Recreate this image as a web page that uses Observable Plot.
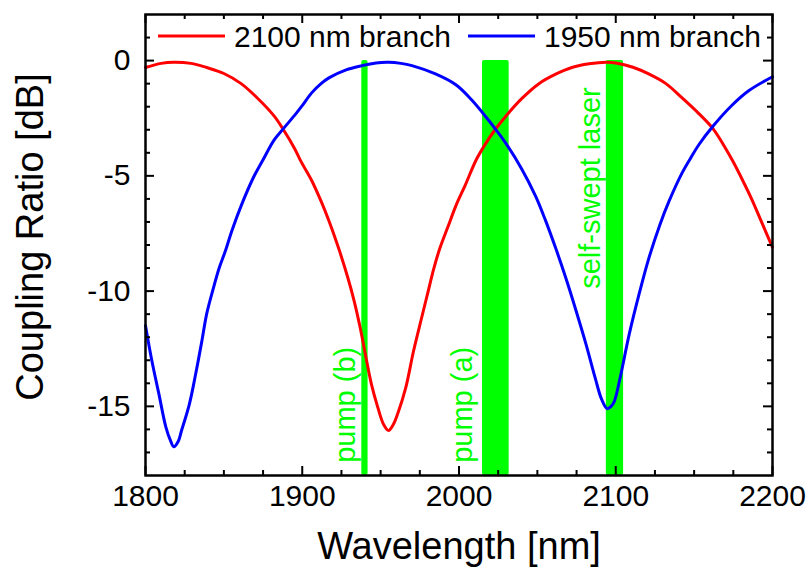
<!DOCTYPE html>
<html>
<head>
<meta charset="utf-8">
<script src="https://cdn.jsdelivr.net/npm/d3@7"></script>
<script src="https://cdn.jsdelivr.net/npm/@observablehq/plot@0.6"></script>
<style>
  html, body { margin: 0; padding: 0; background: #fff; }
  #chart { width: 809px; height: 579px; }
</style>
</head>
<body>
<div id="chart"></div>
<script>
// Coupling ratio of the 2100 nm branch (red) versus wavelength
const wavelength2100 = [1800, 1810, 1818, 1829, 1839, 1850, 1861, 1871, 1882, 1888, 1895, 1899,
  1906, 1912, 1917, 1923, 1929, 1933, 1937, 1941, 1944, 1948, 1952, 1955, 1958, 1961, 1966,
  1971, 1976, 1980, 1984, 1988, 1993, 1998, 2004, 2011, 2017, 2023, 2030, 2040, 2051, 2062,
  2072, 2083, 2094, 2100, 2111, 2121, 2132, 2142, 2153, 2162, 2170, 2175, 2181, 2187, 2193, 2200];
const ratio2100 = [-0.3, -0.12, -0.07, -0.12, -0.3, -0.56, -1.0, -1.6, -2.4, -3.0, -3.8, -4.35,
  -5.2, -6.1, -6.95, -8.1, -9.4, -10.4, -11.6, -13.0, -14.0, -15.0, -15.8, -16.05, -15.8, -15.3, -14.2,
  -12.6, -11.2, -10.1, -9.0, -8.1, -7.2, -6.3, -5.4, -4.3, -3.6, -3.0, -2.4, -1.65, -1.0, -0.58,
  -0.3, -0.14, -0.07, -0.1, -0.29, -0.58, -1.0, -1.6, -2.3, -2.95, -3.8, -4.4, -5.2, -6.05, -7.0, -8.1];

// Coupling ratio of the 1950 nm branch (blue) versus wavelength
const wavelength1950 = [1800, 1804, 1808.5, 1813, 1816, 1818, 1821, 1823, 1828, 1832, 1836, 1839,
  1843, 1847, 1851, 1855, 1861, 1869, 1875, 1882, 1888, 1896, 1900, 1906, 1912, 1917, 1928, 1938, 1947,
  1955, 1963, 1970, 1985, 1998, 2008, 2019, 2023, 2030, 2040, 2049, 2055, 2062, 2068, 2074, 2081,
  2087, 2091, 2094.5, 2097, 2099, 2103, 2108.5, 2115, 2121, 2128, 2134, 2142.5, 2148, 2153, 2162, 2174, 2185, 2200];
const ratio1950 = [-11.5, -13.0, -14.45, -15.9, -16.5, -16.75, -16.5, -16.05, -14.9, -13.6, -12.15, -11.0,
  -9.95, -9.0, -8.25, -7.4, -6.3, -5.05, -4.3, -3.45, -2.95, -2.3, -1.95, -1.4, -1.0, -0.75, -0.4, -0.22, -0.1,
  -0.07, -0.12, -0.22, -0.58, -1.05, -1.7, -2.6, -2.95, -3.6, -4.7, -5.9, -6.9, -8.2, -9.4, -10.7, -12.3,
  -13.8, -14.7, -15.1, -15.0, -14.8, -13.7, -11.9, -10.1, -8.6, -7.15, -6.1, -4.85, -4.2, -3.65, -2.85, -1.95, -1.3, -0.7];

// Spectral bands of the pumps and the laser
const bandNames = ["pump (b)", "pump (a)", "self-swept laser"];
const bandStart = [1938, 2015, 2094];
const bandEnd = [1942, 2032, 2105];
const bandTop = [0, 0, 0];
const bandLabelX = [1927.5, 2002.5, 2084];
const bandLabelY = [-17.45, -17.45, -9.9];

// Axis ticks
const xMajor = [1800, 1900, 2000, 2100, 2200];
const xMinor = [1825, 1850, 1875, 1925, 1950, 1975, 2025, 2050, 2075, 2125, 2150, 2175];
const yLabels = [0, -5, -10, -15];
const yMinor = [1, -1, -2, -3, -4, -6, -7, -8, -9, -11, -12, -13, -14, -16, -17];

const seriesNames = ["2100 nm branch", "1950 nm branch"];
const seriesColors = ["#ff0000", "#0000ff"];
const green = "#00ff00";

const red = wavelength2100.map((w, i) => ({w, r: ratio2100[i]}));
const blue = wavelength1950.map((w, i) => ({w, r: ratio1950[i]}));
const bands = bandNames.map((name, i) => ({
  name, x1: bandStart[i], x2: bandEnd[i], top: bandTop[i], lx: bandLabelX[i], ly: bandLabelY[i]
}));

const width = 809, height = 579;
const mt = 14, mr = 37, mb = 104, ml = 145;
const frameW = width - ml - mr, frameH = height - mt - mb;
const yMin = -18, yMax = 2;
const font = "'Liberation Sans', Arial, sans-serif";

const svg = Plot.plot({
  width, height,
  marginTop: mt, marginRight: mr, marginBottom: mb, marginLeft: ml,
  style: {fontFamily: font, fontSize: "30px", color: "#000", background: "#fff", overflow: "visible"},
  x: {domain: [1800, 2200]},
  y: {domain: [yMin, yMax]},
  marks: [
    Plot.rect(bands, {x1: "x1", x2: "x2", y1: yMin, y2: "top", fill: green, rx: 2}),
    Plot.text(bands, {
      x: "lx", y: "ly", text: "name", rotate: -90, textAnchor: "start",
      fill: green, fontSize: 29
    }),
    Plot.line(red, {x: "w", y: "r", stroke: seriesColors[0], strokeWidth: 3, curve: "catmull-rom"}),
    Plot.line(blue, {x: "w", y: "r", stroke: seriesColors[1], strokeWidth: 3, curve: "catmull-rom"}),
    // inward ticks on all four sides
    Plot.tickX(xMajor, {x: d => d, insetTop: frameH - 9, strokeWidth: 2}),
    Plot.tickX(xMajor, {x: d => d, insetBottom: frameH - 9, strokeWidth: 2}),
    Plot.tickX(xMinor, {x: d => d, insetTop: frameH - 5, strokeWidth: 2}),
    Plot.tickX(xMinor, {x: d => d, insetBottom: frameH - 5, strokeWidth: 2}),
    Plot.tickY(yLabels, {y: d => d, insetRight: frameW - 9, strokeWidth: 2}),
    Plot.tickY(yLabels, {y: d => d, insetLeft: frameW - 9, strokeWidth: 2}),
    Plot.tickY(yMinor, {y: d => d, insetRight: frameW - 5, strokeWidth: 2}),
    Plot.tickY(yMinor, {y: d => d, insetLeft: frameW - 5, strokeWidth: 2}),
    Plot.axisX({ticks: xMajor, tickSize: 0, tickPadding: 9, tickFormat: d => String(d), label: null, fontSize: 30}),
    Plot.axisY({ticks: yLabels, tickSize: 0, tickPadding: 15, tickFormat: d => String(d), label: null, fontSize: 30}),
    Plot.frame({stroke: "#000", strokeWidth: 2.5}),
    Plot.text(["Wavelength [nm]"], {frameAnchor: "bottom", dy: 83, fontSize: 38, fill: "#000"}),
    Plot.text(["Coupling Ratio [dB]"], {
      frameAnchor: "left", textAnchor: "middle", dx: -115, dy: -8, rotate: -90, fontSize: 38, fill: "#000"
    })
  ]
});

// Legend inside the top of the frame
const legend = d3.select(svg).append("g")
  .attr("font-family", font).attr("font-size", 30).attr("text-anchor", "start");
const legendX = [158, 468];
seriesNames.forEach((name, i) => {
  legend.append("line")
    .attr("x1", legendX[i]).attr("x2", legendX[i] + 67)
    .attr("y1", 36).attr("y2", 36)
    .attr("stroke", seriesColors[i]).attr("stroke-width", 3);
  legend.append("text")
    .attr("x", legendX[i] + 76).attr("y", 36).attr("dy", "0.36em")
    .attr("fill", "#000").text(name);
});

document.getElementById("chart").appendChild(svg);
</script>
</body>
</html>
